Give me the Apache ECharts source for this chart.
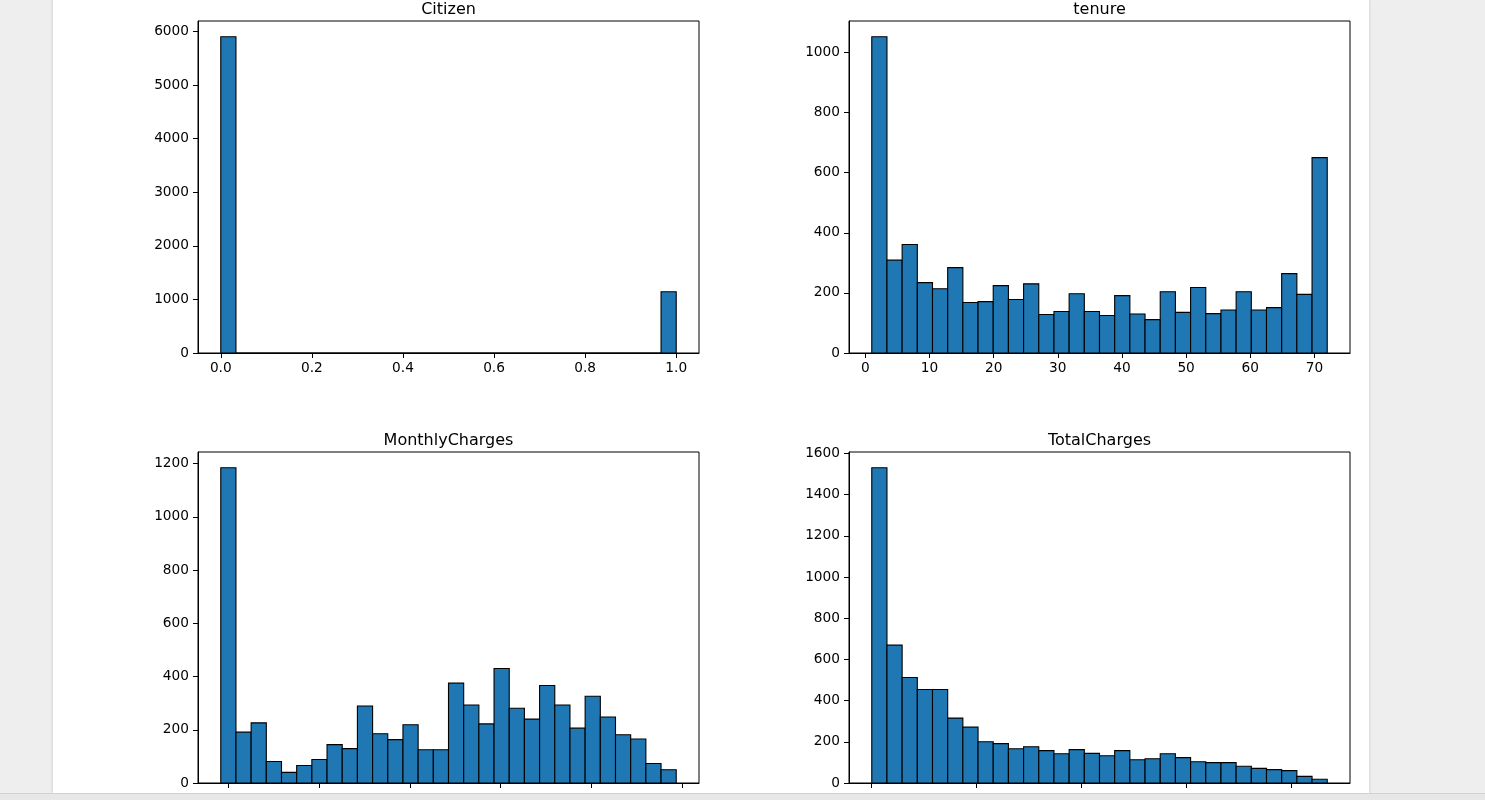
<!DOCTYPE html>
<html>
<head>
<meta charset="utf-8">
<title>Histograms</title>
<script src="https://cdn.jsdelivr.net/npm/echarts@6/dist/echarts.min.js"></script>
<style>
  html, body { margin: 0; padding: 0; background: #eeeeee; width: 1485px; height: 800px; overflow: hidden; }
  #page { position: absolute; left: 53px; top: 0; width: 1316px; height: 793px; background: #ffffff; box-shadow: 0 0 3px rgba(0,0,0,0.18); }
  #strip { position: absolute; left: 0; top: 793px; width: 1485px; height: 7px; background: #e6e8e8; border-top: 1px solid #cfd2d2; }
  #chart { position: absolute; left: 0; top: 0; width: 1485px; height: 793px; }
</style>
</head>
<body>
<div id="page"></div>
<div id="strip"></div>
<div id="chart"></div>
<script>
// number of bins used for every histogram
const bins = 30;

// Citizen
const citizenRange = [0, 1];
const citizenCounts = [5901, 0, 0, 0, 0, 0, 0, 0, 0, 0, 0, 0, 0, 0, 0,
  0, 0, 0, 0, 0, 0, 0, 0, 0, 0, 0, 0, 0, 0, 1142];
const citizenXTicks = [0, 0.2, 0.4, 0.6, 0.8, 1.0];
const citizenYTicks = [0, 1000, 2000, 3000, 4000, 5000, 6000];

// tenure
const tenureRange = [1, 72];
const tenureCounts = [1052, 309, 361, 234, 214, 284, 168, 171, 224, 178,
  230, 128, 138, 197, 138, 125, 191, 130, 111, 204,
  135, 218, 131, 143, 204, 143, 151, 264, 195, 650];
const tenureXTicks = [0, 10, 20, 30, 40, 50, 60, 70];
const tenureYTicks = [0, 200, 400, 600, 800, 1000];

// MonthlyCharges
const monthlyRange = [18.25, 118.75];
const monthlyCounts = [1184, 191, 226, 81, 40, 66, 88, 144, 129, 289,
  185, 163, 219, 125, 125, 375, 293, 222, 430, 281,
  240, 366, 293, 206, 326, 248, 181, 165, 73, 50];
const monthlyXTicks = [20, 40, 60, 80, 100, 120];
const monthlyYTicks = [0, 200, 400, 600, 800, 1000, 1200];

// TotalCharges
const totalRange = [18.8, 8684.8];
const totalCounts = [1530, 669, 512, 454, 454, 315, 271, 200, 191, 166,
  176, 157, 142, 162, 144, 132, 157, 113, 118, 142,
  123, 103, 99, 99, 81, 71, 65, 60, 32, 18];
const totalXTicks = [0, 2000, 4000, 6000, 8000];
const totalYTicks = [0, 200, 400, 600, 800, 1000, 1200, 1400, 1600];

const panels = [
  { title: 'Citizen', range: citizenRange, counts: citizenCounts, xTicks: citizenXTicks, yTicks: citizenYTicks, fmt: v => v.toFixed(1), showX: true },
  { title: 'tenure', range: tenureRange, counts: tenureCounts, xTicks: tenureXTicks, yTicks: tenureYTicks, fmt: v => String(v), showX: true },
  { title: 'MonthlyCharges', range: monthlyRange, counts: monthlyCounts, xTicks: monthlyXTicks, yTicks: monthlyYTicks, fmt: v => String(v), showX: false },
  { title: 'TotalCharges', range: totalRange, counts: totalCounts, xTicks: totalXTicks, yTicks: totalYTicks, fmt: v => String(v), showX: false }
];

// plot boxes (pixels) for the 2x2 layout
const boxes = [
  { left: 198, top: 21, width: 501, height: 332 },
  { left: 849, top: 21, width: 501, height: 332 },
  { left: 198, top: 452, width: 501, height: 331 },
  { left: 849, top: 452, width: 501, height: 331 }
];

const font = 'DejaVu Sans';

function binRows(range, counts) {
  const w = (range[1] - range[0]) / bins;
  return counts.map((c, i) => [range[0] + i * w, range[0] + (i + 1) * w, c]);
}

function renderBin(params, api) {
  const p0 = api.coord([api.value(0), api.value(2)]);
  const p1 = api.coord([api.value(1), 0]);
  return {
    type: 'rect',
    shape: { x: p0[0], y: p0[1], width: p1[0] - p0[0], height: p1[1] - p0[1] },
    style: { fill: '#1f77b4', stroke: '#000000', lineWidth: 1.1 }
  };
}

const chart = echarts.init(document.getElementById('chart'), null, { renderer: 'canvas' });

const option = {
  animation: false,
  backgroundColor: 'transparent',
  title: [],
  grid: [],
  xAxis: [],
  yAxis: [],
  series: []
};

panels.forEach((p, i) => {
  const b = boxes[i];
  // matplotlib style 5% margins on x, 5% headroom on y
  const span = p.range[1] - p.range[0];
  const xmin = p.range[0] - span * 0.05;
  const xmax = p.range[1] + span * 0.05;
  const ymax = Math.max.apply(null, p.counts) * 1.05;

  option.title.push({
    text: p.title,
    left: b.left + b.width / 2,
    top: b.top - 19,
    textAlign: 'center',
    padding: 0,
    textStyle: { fontFamily: font, fontSize: 16, fontWeight: 'normal', color: '#000000' }
  });
  option.grid.push({
    left: b.left, top: b.top, width: b.width, height: b.height,
    show: true, borderColor: '#000000', borderWidth: 1, backgroundColor: 'transparent'
  });
  option.xAxis.push({
    type: 'value', gridIndex: i, min: xmin, max: xmax, position: 'bottom',
    axisLine: { show: true, onZero: false, lineStyle: { color: '#000000', width: 1 } },
    axisTick: { show: true, inside: false, length: 5, customValues: p.xTicks, lineStyle: { color: '#000000', width: 1 } },
    axisLabel: { show: p.showX, customValues: p.xTicks, formatter: p.fmt, margin: 8, color: '#000000', fontFamily: font, fontSize: 13.7 },
    splitLine: { show: false }
  });
  option.yAxis.push({
    type: 'value', gridIndex: i, min: 0, max: ymax, position: 'left',
    axisLine: { show: true, onZero: false, lineStyle: { color: '#000000', width: 1 } },
    axisTick: { show: true, inside: false, length: 5, customValues: p.yTicks, lineStyle: { color: '#000000', width: 1 } },
    axisLabel: { customValues: p.yTicks, formatter: v => String(v), margin: 9, color: '#000000', fontFamily: font, fontSize: 13.7 },
    splitLine: { show: false }
  });
  option.series.push({
    type: 'custom',
    xAxisIndex: i,
    yAxisIndex: i,
    renderItem: renderBin,
    encode: { x: [0, 1], y: 2 },
    data: binRows(p.range, p.counts)
  });
});

chart.setOption(option);
</script>
</body>
</html>
